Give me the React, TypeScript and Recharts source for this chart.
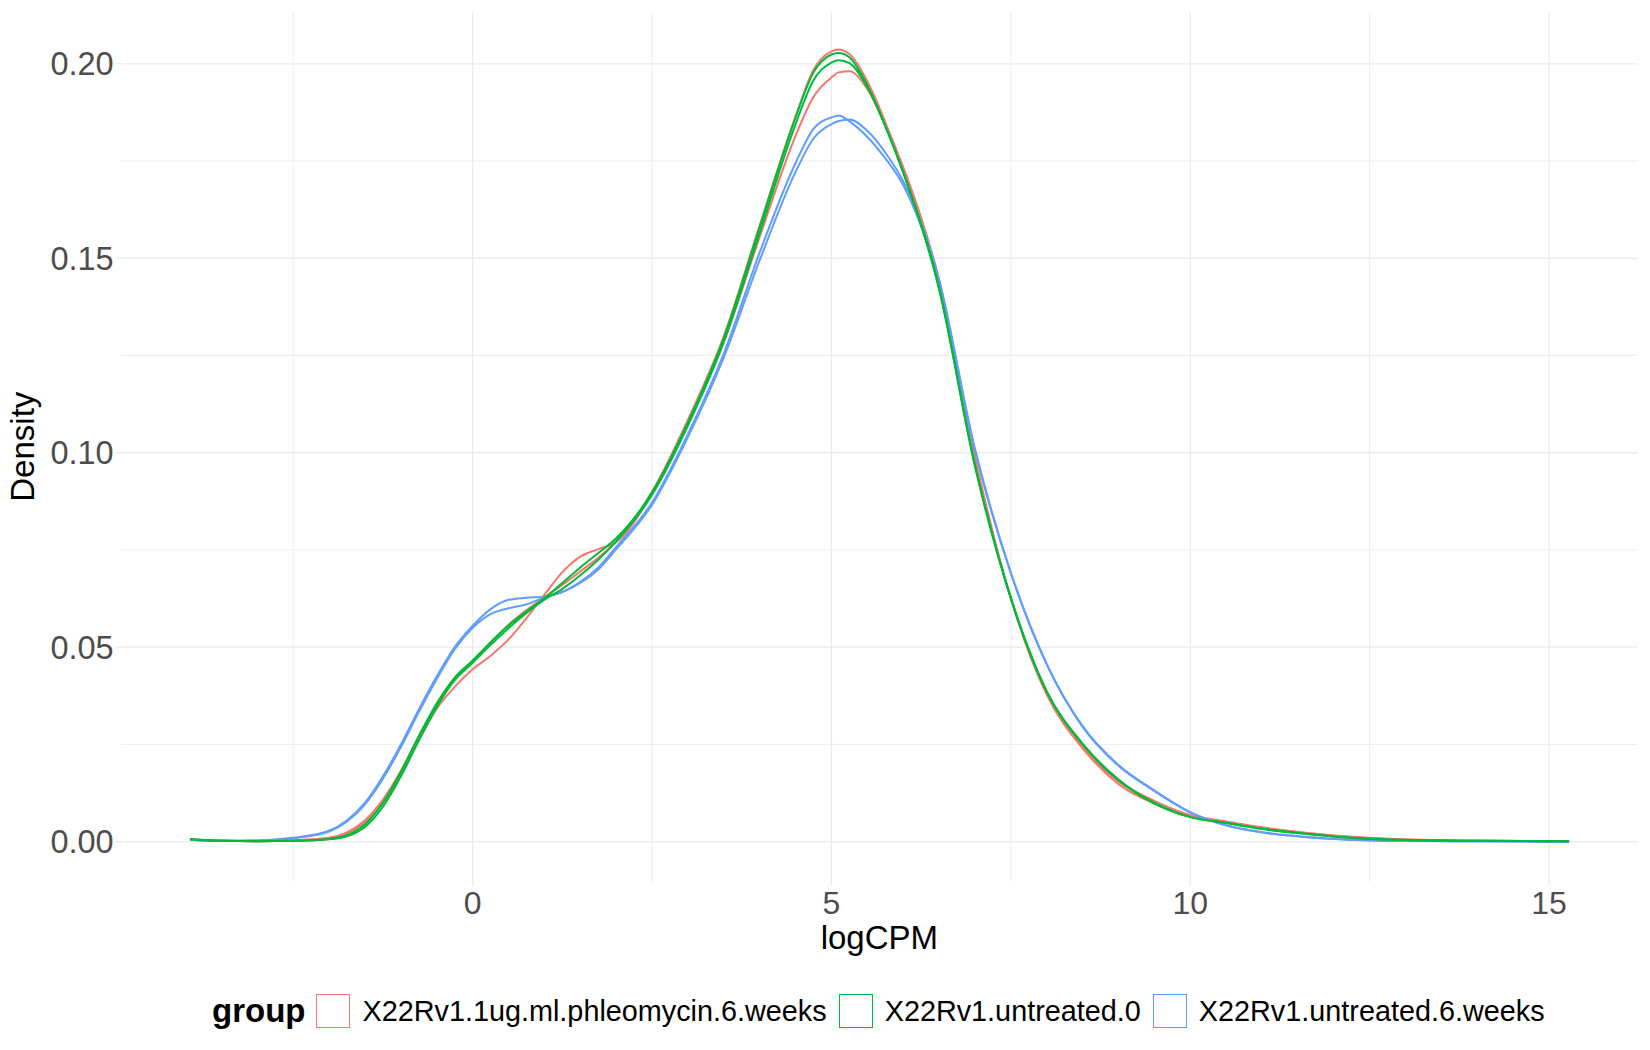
import { LineChart, Line, XAxis, YAxis, CartesianGrid } from 'recharts';

// logCPM positions where the density curves were read
const logCPM = [
  -3.94, -3.5, -3, -2.5, -2, -1.75, -1.5, -1.25, -1, -0.75, -0.5, -0.25, 0, 0.25, 0.5, 0.75, 1, 1.25, 1.5,
  1.75, 2, 2.5, 3, 3.5, 4, 4.5, 4.75, 5, 5.1, 5.25, 5.5, 5.75, 6, 6.5, 7, 7.5, 8, 8.5, 9, 9.5, 10, 10.5,
  11, 11.5, 12, 13, 14, 15.28,
];

const phleoA = [
  0.0005, 0.0002, 0.0001, 0.0003, 0.001, 0.0022, 0.005, 0.01, 0.0172, 0.0262, 0.0342, 0.0398, 0.0443, 0.0478,
  0.052, 0.0575, 0.0635, 0.0693, 0.0733, 0.0752, 0.077, 0.0895, 0.108, 0.1285, 0.1555, 0.1815, 0.1915, 0.1965,
  0.1978, 0.1981, 0.1935, 0.1845, 0.1735, 0.1445, 0.099, 0.0625, 0.0378, 0.024, 0.0148, 0.0098, 0.0068,
  0.0052, 0.0037, 0.0025, 0.0016, 0.0006, 0.0002, 0.0001,
];
const phleoB = [
  0.0005, 0.0002, 0.0001, 0.0003, 0.001, 0.0024, 0.0055, 0.0108, 0.0182, 0.027, 0.0352, 0.0418, 0.0462,
  0.0512, 0.0558, 0.0595, 0.0628, 0.066, 0.0695, 0.073, 0.0772, 0.09, 0.1085, 0.13, 0.1585, 0.1865, 0.1985,
  0.2032, 0.2037, 0.2025, 0.1955, 0.185, 0.1725, 0.1425, 0.0975, 0.0625, 0.038, 0.0243, 0.0155, 0.0105,
  0.0068, 0.005, 0.0035, 0.0024, 0.0015, 0.0005, 0.0002, 0.0001,
];
const untreated0A = [
  0.0007, 0.0002, 0.0001, 0.0002, 0.0007, 0.0017, 0.0045, 0.01, 0.018, 0.0272, 0.0356, 0.0422, 0.0466,
  0.0513, 0.0556, 0.0592, 0.0626, 0.0665, 0.0705, 0.0742, 0.078, 0.0898, 0.1078, 0.1295, 0.158, 0.1862,
  0.1978, 0.2024, 0.2028, 0.2017, 0.1945, 0.184, 0.172, 0.142, 0.0965, 0.0625, 0.0385, 0.025, 0.0158,
  0.0098, 0.0063, 0.0048, 0.0033, 0.0022, 0.0013, 0.0004, 0.0002, 0.0001,
];
const untreated0B = [
  0.0006, 0.0002, 0.0001, 0.0002, 0.0006, 0.0014, 0.0038, 0.009, 0.0168, 0.026, 0.0346, 0.0415, 0.046,
  0.0506, 0.0549, 0.0588, 0.0622, 0.065, 0.0685, 0.0725, 0.0772, 0.0892, 0.107, 0.1285, 0.1565, 0.1845,
  0.1958, 0.2003, 0.2009, 0.2002, 0.194, 0.184, 0.1722, 0.1425, 0.0968, 0.0628, 0.0387, 0.0252, 0.016,
  0.01, 0.0063, 0.0048, 0.0033, 0.0022, 0.0013, 0.0004, 0.0002, 0.0001,
];
const untreated6A = [
  0.0005, 0.0002, 0.0003, 0.001, 0.0028, 0.0055, 0.01, 0.0168, 0.025, 0.034, 0.0425, 0.05, 0.0555, 0.0598,
  0.0622, 0.0627, 0.063, 0.0642, 0.0668, 0.0705, 0.0758, 0.0872, 0.1048, 0.1255, 0.1515, 0.1745, 0.1833,
  0.1862, 0.1867, 0.1852, 0.1812, 0.1757, 0.1688, 0.1435, 0.1005, 0.069, 0.0455, 0.0295, 0.0195, 0.013,
  0.0075, 0.0042, 0.0024, 0.0014, 0.0007, 0.0002, 0.0001, 0,
];
const untreated6B = [
  0.0005, 0.0002, 0.0003, 0.0009, 0.0026, 0.0052, 0.0096, 0.0162, 0.0243, 0.0333, 0.0418, 0.0495, 0.055,
  0.0585, 0.06, 0.061, 0.0628, 0.0642, 0.0665, 0.07, 0.0752, 0.0866, 0.104, 0.1245, 0.1495, 0.1722, 0.1808,
  0.1845, 0.1853, 0.1857, 0.1828, 0.1772, 0.1698, 0.1445, 0.101, 0.0692, 0.0457, 0.0297, 0.0197, 0.0132,
  0.0076, 0.0042, 0.0024, 0.0014, 0.0007, 0.0002, 0.0001, 0,
];

const groups = ['X22Rv1.1ug.ml.phleomycin.6.weeks', 'X22Rv1.untreated.0', 'X22Rv1.untreated.6.weeks'];
const groupColors = ['#F8766D', '#00BA38', '#619CFF'];

const xMajor = [0, 5, 10, 15];
const xMinor = [-2.5, 2.5, 7.5, 12.5];
const yMajor = [0, 0.05, 0.1, 0.15, 0.2];
const yMinor = [0.025, 0.075, 0.125, 0.175];

const FONT = '"Liberation Sans", Arial, Helvetica, sans-serif';
const GRID = '#EBEBEB';

const rows = logCPM.map((x, i) => ({
  x,
  phleoA: phleoA[i],
  phleoB: phleoB[i],
  untreated0A: untreated0A[i],
  untreated0B: untreated0B[i],
  untreated6A: untreated6A[i],
  untreated6B: untreated6B[i],
}));

// drawing order: red, blue, then green on top
const series = [
  { key: 'phleoA', color: groupColors[0] },
  { key: 'phleoB', color: groupColors[0] },
  { key: 'untreated6A', color: groupColors[2] },
  { key: 'untreated6B', color: groupColors[2] },
  { key: 'untreated0A', color: groupColors[1] },
  { key: 'untreated0B', color: groupColors[1] },
];

function XTitle({ viewBox }: any) {
  const vb = viewBox ?? { x: 120.7, y: 881.7, width: 1517, height: 168 };
  return (
    <text x={vb.x + vb.width / 2} y={vb.y + 67} textAnchor="middle" fontSize={33} fontFamily={FONT} fill="#000">
      logCPM
    </text>
  );
}

function YTitle({ viewBox }: any) {
  const vb = viewBox ?? { x: 0, y: 11.7, width: 120.7, height: 870 };
  const cy = vb.y + vb.height / 2;
  return (
    <text
      x={34}
      y={cy}
      transform={`rotate(-90, 34, ${cy})`}
      textAnchor="middle"
      fontSize={33}
      fontFamily={FONT}
      fill="#000"
    >
      Density
    </text>
  );
}

function GroupLegend() {
  return (
    <div
      style={{
        position: 'absolute',
        left: 212,
        top: 994,
        height: 34,
        display: 'flex',
        alignItems: 'center',
        fontFamily: FONT,
        whiteSpace: 'nowrap',
      }}
    >
      <span style={{ fontSize: 33, fontWeight: 700, marginRight: 11 }}>group</span>
      {groups.map((g, i) => (
        <div key={g} style={{ display: 'flex', alignItems: 'center', marginRight: 12 }}>
          <span
            style={{
              width: 34,
              height: 34,
              boxSizing: 'border-box',
              border: `1.6px solid ${groupColors[i]}`,
              marginRight: 12,
              display: 'inline-block',
            }}
          />
          <span style={{ fontSize: 28.8 }}>{g}</span>
        </div>
      ))}
    </div>
  );
}

export default function App() {
  return (
    <div style={{ position: 'absolute', left: 0, top: 0, width: 1650, height: 1050, background: '#fff' }}>
      <LineChart width={1650} height={1050} data={rows} margin={{ top: 11.7, right: 12, left: 0, bottom: 0 }}>
        <CartesianGrid
          stroke={GRID}
          strokeWidth={0.9}
          horizontalValues={yMinor}
          verticalValues={xMinor}
        />
        <CartesianGrid
          stroke={GRID}
          strokeWidth={1.3}
          horizontalValues={yMajor}
          verticalValues={xMajor}
        />
        <XAxis
          type="number"
          dataKey="x"
          domain={[-4.905, 16.24]}
          ticks={xMajor}
          allowDataOverflow
          height={168.3}
          axisLine={false}
          tickSize={4}
          tickMargin={6}
          tickLine={{ stroke: GRID, strokeWidth: 1.3 }}
          tick={{ fontSize: 32, fill: '#4D4D4D', fontFamily: FONT }}
          label={{ content: (p: any) => <XTitle {...p} /> }}
        />
        <YAxis
          type="number"
          domain={[-0.0103, 0.2134]}
          ticks={yMajor}
          allowDataOverflow
          width={120.7}
          axisLine={false}
          tickSize={5}
          tickMargin={2}
          tickLine={{ stroke: GRID, strokeWidth: 1.3 }}
          tickFormatter={(v: number) => v.toFixed(2)}
          tick={{ fontSize: 32.5, fill: '#4D4D4D', fontFamily: FONT }}
          label={{ content: (p: any) => <YTitle {...p} /> }}
        />
        {series.map((s) => (
          <Line
            key={s.key}
            type="monotone"
            dataKey={s.key}
            stroke={s.color}
            strokeWidth={2}
            dot={false}
            activeDot={false}
            isAnimationActive={false}
          />
        ))}
      </LineChart>
      <GroupLegend />
    </div>
  );
}
